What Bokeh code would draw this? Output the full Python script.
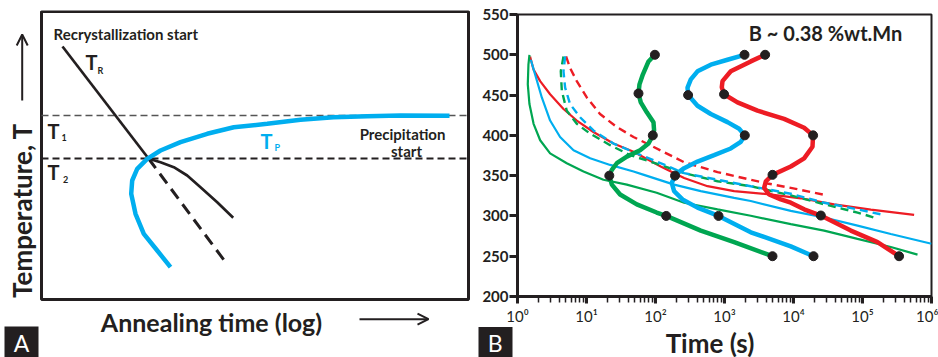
from math import pi
from bokeh.plotting import figure
from bokeh.layouts import row, column
from bokeh.models import Range1d, FixedTicker, Arrow, OpenHead
from bokeh.core.properties import value
from bokeh.embed import file_html
from bokeh.resources import INLINE

INK = "#231f20"
RED = "#ed1c24"
BLUE = "#00aeef"
GREEN = "#00a651"
FONT = "Lato"

# ---------------- Panel A : schematic (arbitrary units, frame 0..427 x 0..288) -------------
a_recryst_x = [21, 107]
a_recryst_y = [253, 141]
a_recryst_ext_x = [107, 185]
a_recryst_ext_y = [141, 36]
a_recryst_slow_x = [105.7, 119, 132.3, 145.7, 159, 175.7, 191.7]
a_recryst_slow_y = [141.3, 137.3, 132.3, 124, 112.3, 97.3, 81.7]
a_precip_x = [129, 115.7, 102.3, 94, 89.7, 90.7, 95.7, 105.7, 119, 139, 165.7, 192.3,
              225.7, 259, 292, 325.7, 359, 408]
a_precip_y = [32.3, 49, 65.7, 85.7, 105.7, 119, 130.7, 140.7, 149, 157.3, 165.7, 172.3,
              175.7, 179.7, 182.3, 183.3, 184, 183.8]
a_T1 = 184
a_T2 = 141

# ---------------- Panel B : data (time in s, temperature) -------------
x_major = [1, 10, 100, 1000, 10000, 100000, 1000000]
x_labels = ["10\u2070", "10\u00b9", "10\u00b2", "10\u00b3", "10\u2074", "10\u2075", "10\u2076"]
y_major = [200, 250, 300, 350, 400, 450, 500, 550]

thin_green_t = [1.49, 1.44, 1.41, 1.49, 1.71, 2.13, 2.97, 5.18, 9.05, 17.6, 38.4, 104, 260,
                792, 2400, 9140, 27800, 84700, 257000, 627000]
thin_green_T = [500, 487.7, 463.3, 438.8, 414.3, 393.9, 377.6, 365.4, 355.2, 344.9, 338.8,
                328.7, 316.4, 308.2, 300.2, 289.9, 281.8, 271.5, 261.4, 252]

thin_blue_t = [1.56, 1.80, 2.25, 2.97, 4.14, 6.48, 11.3, 22, 48, 68, 186, 453, 1380, 2400,
               9140, 27800, 84700, 257000, 1000000]
thin_blue_T = [493.8, 475.5, 447, 418.4, 398, 381.6, 371.5, 363.3, 355.2, 351, 338.8, 330.7,
               322.5, 318.5, 306.3, 298.1, 287.9, 277.6, 265.5]

thin_red_t = [1.52, 1.71, 2.13, 2.97, 4.64, 7.23, 12.6, 24.6, 48, 119, 260, 567, 1380, 4200,
              12800, 38800, 132000, 560000]
thin_red_T = [497.9, 481.6, 467.3, 451, 432.7, 418.4, 404.2, 389.8, 379.7, 361.3, 347, 336.9,
              330.7, 327, 321.9, 314.4, 307.9, 301.4]

dash_red_t = [5.06, 5.78, 7.23, 10.1, 15.7, 27.5, 48, 85.5, 260, 792, 2400, 4200, 10800, 27800]
dash_red_T = [497.9, 483.7, 467.3, 447, 426.5, 410.3, 398, 387.4, 366.6, 354.4, 344.9, 340.3,
              333.6, 326.2]

dash_blue_t = [4.9, 4.64, 4.9, 5.78, 8.07, 12.6, 24.6, 53.6, 104, 260, 792, 2400, 9140, 27800,
               84700, 197000]
dash_blue_T = [497.9, 479.5, 459.2, 438.8, 422.5, 406.1, 389.8, 377.6, 367.5, 353.1, 344.9,
               336.9, 327.5, 316.4, 308.2, 301.4]

dash_green_t = [4.64, 4.24, 4.39, 5.18, 7.23, 11.3, 22, 42.8, 104, 260, 792, 2400, 9140, 27800,
                84700, 151000]
dash_green_T = [497.9, 479.5, 455.1, 430.6, 414.3, 402.1, 387.8, 375.5, 364.8, 353.1, 343,
                336.9, 325.5, 314.5, 304.2, 297.7]

green_curve_t = [98, 79.2, 65.5, 58.6, 56.7, 61.2, 74.8, 93.5, 95.4, 91.4, 79.2, 59.8, 38.4,
                 27.5, 23.3, 21.4, 23.3, 30.7, 53.6, 104, 143, 453, 1380, 4960]
green_curve_T = [500, 491.7, 475.5, 463.3, 452, 440.9, 428.6, 416.4, 406.1, 400, 389.8, 381.6,
                 373.6, 365.4, 357.2, 350, 338.8, 326.6, 314.4, 304.2, 300, 281.8, 267.5, 250]

blue_curve_t = [1950, 1105, 633, 406, 325, 291, 297, 406, 633, 1105, 1629, 1969, 1722, 1233,
                707, 406, 260, 208, 192, 172, 186, 246, 406, 819, 2404, 9141, 19500]
blue_curve_T = [500, 493.8, 487.7, 479.5, 469.4, 459.2, 450, 436.7, 426.5, 416.4, 408.2, 400,
                391.9, 383.7, 375.5, 367.5, 359.3, 353.1, 350, 340.9, 330.7, 320.5, 310.3, 300,
                279.7, 262.2, 250]

red_curve_t = [3880, 2404, 1233, 935, 914, 986, 1543, 3008, 7305, 14260, 19230, 18840, 14260,
               9141, 4965, 3970, 3753, 4430, 6550, 9141, 14260, 24890, 67660, 164900, 338800]
red_curve_T = [500, 491.8, 479.5, 467.3, 459.6, 451, 440.9, 430.6, 420.4, 409.4, 400, 385.8,
               371.5, 361.3, 351, 343, 334.8, 326.6, 320.5, 316.4, 308.2, 300.5, 281.8, 267.5, 250]

green_dots_t = [98, 56.7, 91.4, 21.4, 143, 4960]
green_dots_T = [500, 452, 400, 350, 300, 250]
blue_dots_t = [1950, 297, 1969, 192, 819, 19500]
blue_dots_T = [500, 450, 400, 350, 300, 250]
red_dots_t = [3880, 986, 19230, 4965, 24890, 338800]
red_dots_T = [500, 451, 400, 351, 300.5, 250]


def atext(p, x, y, s, size, color=INK, align="left", style="bold", angle=0.0, font=FONT):
    p.text(x=[x], y=[y], text=[s], text_font=value(font), text_font_size=f"{size}px",
           text_font_style=style, text_color=color, text_align=align,
           text_baseline="middle", angle=angle)


# ======================= Panel A =======================
pA = figure(width=478, height=357, x_range=Range1d(-41, 437), y_range=Range1d(-58, 289),
            x_axis_location=None, y_axis_location=None, toolbar_location=None,
            output_backend="svg", min_border_left=0, min_border_right=0,
            min_border_top=10, min_border_bottom=0, outline_line_color=None)
pA.grid.visible = False

pA.quad(left=0, right=427, bottom=0, top=288, fill_color=None, line_color=INK, line_width=3)
pA.segment(x0=0, y0=a_T1, x1=427, y1=a_T1, line_color="#555555", line_width=1.6,
           line_dash="7 4")
pA.segment(x0=0, y0=a_T2, x1=427, y1=a_T2, line_color=INK, line_width=2, line_dash="7 4")
pA.line(a_recryst_x, a_recryst_y, line_color=INK, line_width=2.7)
pA.line(a_recryst_ext_x, a_recryst_ext_y, line_color=INK, line_width=3, line_dash="12 7")
pA.line(a_recryst_slow_x, a_recryst_slow_y, line_color=INK, line_width=2.7)
pA.line(a_precip_x, a_precip_y, line_color=BLUE, line_width=4.5)

atext(pA, 12, 266, "Recrystallization start", 15)
atext(pA, 44, 237.5, "T", 20)
atext(pA, 56, 229.5, "R", 9)
atext(pA, 6, 169, "T", 20)
atext(pA, 20, 162.5, "1", 9)
atext(pA, 6, 127.3, "T", 20)
atext(pA, 21.5, 120, "2", 9)
atext(pA, 219, 159, "T", 20, color=BLUE)
atext(pA, 233, 152.5, "P", 9, color=BLUE)
atext(pA, 361, 166, "Precipitation", 15, align="center")
atext(pA, 365, 148.3, "start", 15, align="center")

atext(pA, -20, 89, "Temperature, T", 26, align="center", angle=pi / 2)
atext(pA, 170, -22, "Annealing time (log)", 25, align="center")
pA.add_layout(Arrow(end=OpenHead(size=11, line_width=2, line_color=INK),
                    x_start=-19.3, y_start=199, x_end=-19.3, y_end=265,
                    line_width=2, line_color=INK))
pA.add_layout(Arrow(end=OpenHead(size=11, line_width=2, line_color=INK),
                    x_start=318, y_start=-19.7, x_end=387, y_end=-19.7,
                    line_width=2, line_color=INK))

pA.quad(left=-37, right=-3, bottom=-58, top=-27, fill_color=INK, line_color=None)
atext(pA, -20, -43, "A", 23, color="white", align="center", style="normal")

# ======================= Panel B =======================
pB = figure(width=460, height=327, x_axis_type="log", x_range=Range1d(1, 1e6),
            y_range=Range1d(200, 550), toolbar_location=None, output_backend="svg",
            min_border_left=39, min_border_right=7, min_border_top=14, min_border_bottom=28)
pB.grid.visible = False
pB.outline_line_color = INK
pB.outline_line_width = 2

xa = pB.xaxis[0]
xa.ticker = FixedTicker(ticks=x_major,
                        minor_ticks=[m * 10 ** k for k in range(6) for m in range(2, 10)])
xa.major_label_overrides = {t: lab for t, lab in zip(x_major, x_labels)}
xa.axis_line_width = 3
xa.axis_line_color = INK
xa.major_tick_in = 0
xa.major_tick_out = 7
xa.major_tick_line_width = 3
xa.major_tick_line_color = INK
xa.minor_tick_in = 0
xa.minor_tick_out = 6
xa.minor_tick_line_width = 1.5
xa.minor_tick_line_color = INK
xa.major_label_standoff = 3
xa.major_label_text_font = FONT
xa.major_label_text_font_size = "15px"
xa.major_label_text_color = INK

ya = pB.yaxis[0]
ya.ticker = FixedTicker(ticks=y_major)
ya.axis_line_width = 3
ya.axis_line_color = INK
ya.major_tick_in = 0
ya.major_tick_out = 8
ya.major_tick_line_width = 3
ya.major_tick_line_color = INK
ya.minor_tick_out = 0
ya.minor_tick_in = 0
ya.major_label_standoff = 1
ya.major_label_text_font = FONT
ya.major_label_text_font_style = "bold"
ya.major_label_text_font_size = "15px"
ya.major_label_text_color = INK

pB.line(thin_red_t, thin_red_T, line_color=RED, line_width=2.2)
pB.line(thin_green_t, thin_green_T, line_color=GREEN, line_width=2.2)
pB.line(thin_blue_t, thin_blue_T, line_color=BLUE, line_width=2.2)
pB.line(dash_red_t, dash_red_T, line_color=RED, line_width=2.4, line_dash="8 5")
pB.line(dash_green_t, dash_green_T, line_color=GREEN, line_width=2.4, line_dash="8 5")
pB.line(dash_blue_t, dash_blue_T, line_color=BLUE, line_width=2.4, line_dash="8 5")
pB.line(green_curve_t, green_curve_T, line_color=GREEN, line_width=4.5)
pB.line(blue_curve_t, blue_curve_T, line_color=BLUE, line_width=4.5)
pB.line(red_curve_t, red_curve_T, line_color=RED, line_width=4.5)
for tt, TT in ((green_dots_t, green_dots_T), (blue_dots_t, blue_dots_T), (red_dots_t, red_dots_T)):
    pB.scatter(tt, TT, size=9, fill_color=INK, line_color=INK)

pB.text(x=[2250], y=[526.5], text=["B ~ 0.38 %wt.Mn"], text_font=value(FONT),
        text_font_size="20px", text_font_style="bold", text_color=INK,
        text_align="left", text_baseline="middle")

# strip under panel B: x-axis title in the frame, panel letter "B" drawn by the strip's y axis
pS = figure(width=460, height=30, x_range=Range1d(0, 414), y_range=Range1d(0, 30),
            x_axis_location=None, y_axis_location="left", toolbar_location=None,
            output_backend="svg", min_border_left=39, min_border_right=7,
            min_border_top=0, min_border_bottom=0, outline_line_color=None)
pS.grid.visible = False
sy = pS.yaxis[0]
sy.ticker = FixedTicker(ticks=[15], minor_ticks=[])
sy.major_label_overrides = {15: "B"}
sy.axis_line_color = None
sy.major_tick_line_color = INK
sy.major_tick_line_width = 31
sy.major_tick_out = 39
sy.major_tick_in = -5
sy.minor_tick_out = 0
sy.minor_tick_in = 0
sy.major_label_standoff = -24
sy.major_label_text_color = "white"
sy.major_label_text_font = FONT
sy.major_label_text_font_size = "23px"
sy.major_label_orientation = "horizontal"
atext(pS, 192.5, 15, "Time (s)", 26, align="center")

layout = row(pA, column(pB, pS))
open("out.html", "w").write(file_html(layout, INLINE))
